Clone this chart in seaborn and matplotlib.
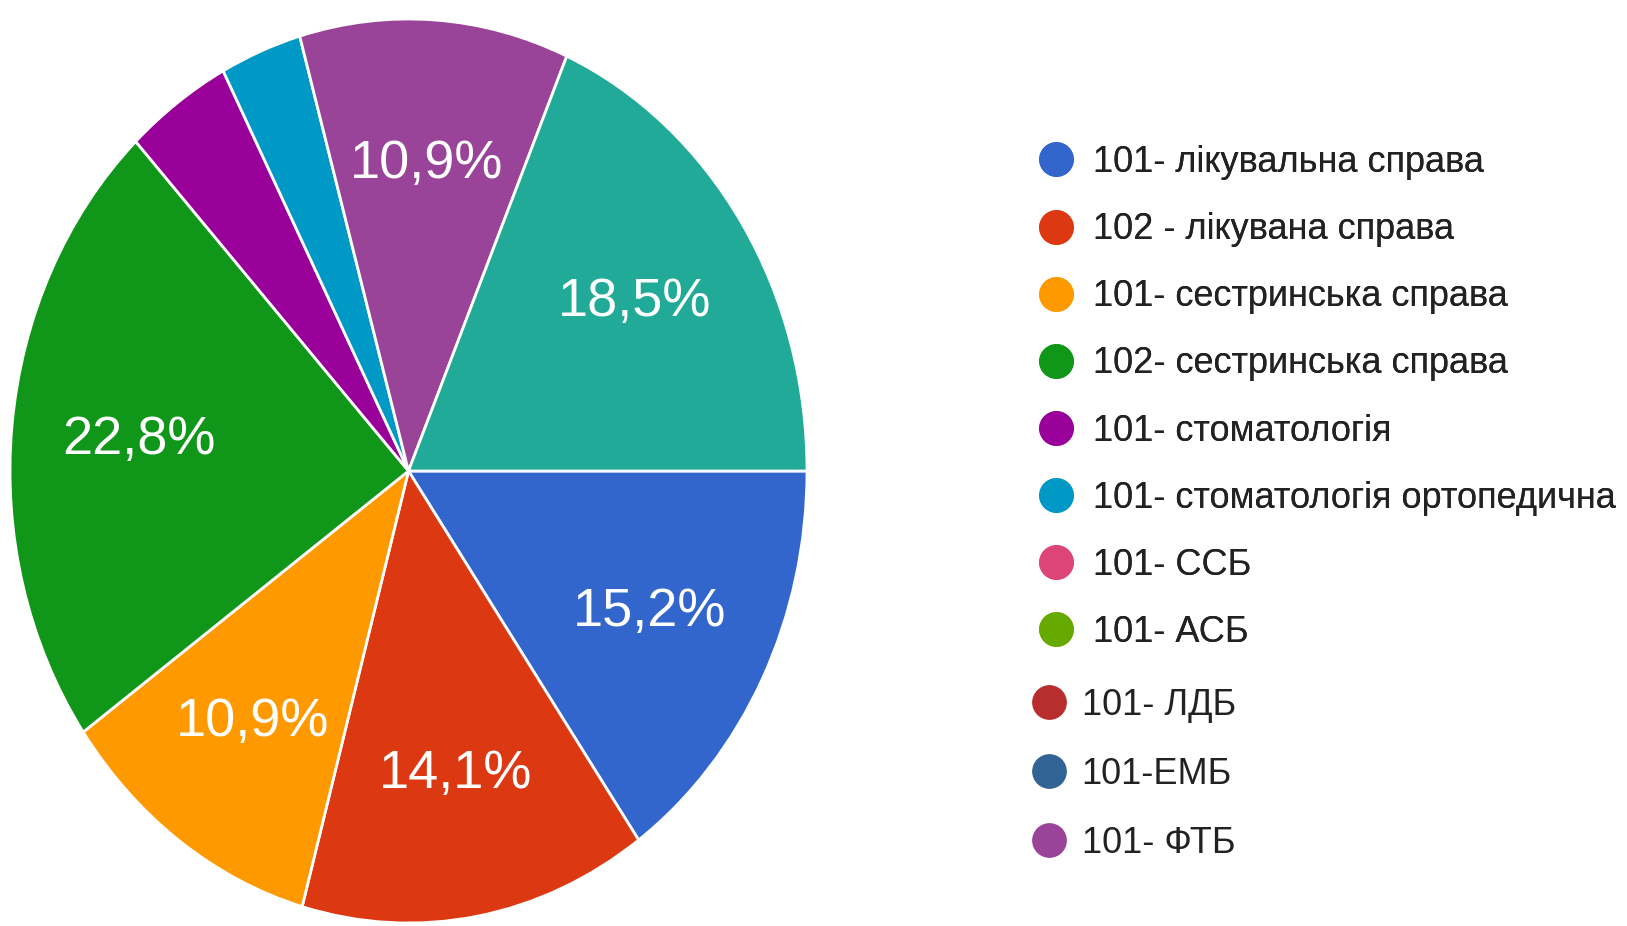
import matplotlib
matplotlib.use("Agg")
import matplotlib.pyplot as plt
from matplotlib.lines import Line2D
import seaborn as sns

# legend categories and their shares (%)
categories = [
    "101- лікувальна справа",
    "102 - лікувана справа",
    "101- сестринська справа",
    "102- сестринська справа",
    "101- стоматологія",
    "101- стоматологія ортопедична",
    "101- ССБ",
    "101- АСБ",
    "101- ЛДБ",
    "101-ЕМБ",
    "101- ФТБ",
]
shares = [15.2, 14.1, 10.9, 22.8, 4.3, 3.3, 0, 0, 0, 0, 10.9]
# slice that has no entry in the legend
unlisted_share = 18.5

colors = ["#3366cc", "#dc3912", "#ff9900", "#109618", "#990099", "#0099c6",
          "#dd4477", "#66aa00", "#b82e2e", "#316395", "#994499"]
unlisted_color = "#22aa99"

sns.set_theme(style="white")
plt.rcParams["font.family"] = ["Liberation Sans", "DejaVu Sans"]

fig = plt.figure(figsize=(16.27, 9.26), dpi=100)
ax = fig.add_axes([10 / 1627, 3 / 926, 797 / 1627, 904 / 926])

# pie values: drop empty slices
vals = [s for s in shares if s > 0] + [unlisted_share]
cols = [c for s, c in zip(shares, colors) if s > 0] + [unlisted_color]

def fmt(p):
    return "" if p < 5 else f"{p:.1f}%".replace(".", ",")

wedges, texts, autotexts = ax.pie(
    vals, colors=cols, startangle=0, counterclock=False,
    autopct=fmt, pctdistance=0.68,
    wedgeprops=dict(edgecolor="white", linewidth=2),
    textprops=dict(color="white", fontsize=39),
)
ax.set_aspect("auto")
ax.set_xlim(-1, 1)
ax.set_ylim(-1, 1)
ax.axis("off")

# legend, drawn in two blocks like the original
handles = [Line2D([], [], marker="o", linestyle="none", markersize=24,
                  markerfacecolor=c, markeredgecolor=c) for c in colors]

leg1 = fig.legend(handles[:8], categories[:8], loc="upper left",
                  bbox_to_anchor=(1024 / 1627, 1 - 127 / 926),
                  frameon=False, fontsize=26, handlelength=0.8,
                  handletextpad=0.62, labelspacing=0.89, borderpad=0,
                  labelcolor="#222222")
leg2 = fig.legend(handles[8:], categories[8:], loc="upper left",
                  bbox_to_anchor=(1016 / 1627, 1 - 670 / 926),
                  frameon=False, fontsize=26, handlelength=0.8,
                  handletextpad=0.52, labelspacing=0.94, borderpad=0,
                  labelcolor="#222222")
fig.add_artist(leg1)

fig.savefig("out.png", dpi=100)
